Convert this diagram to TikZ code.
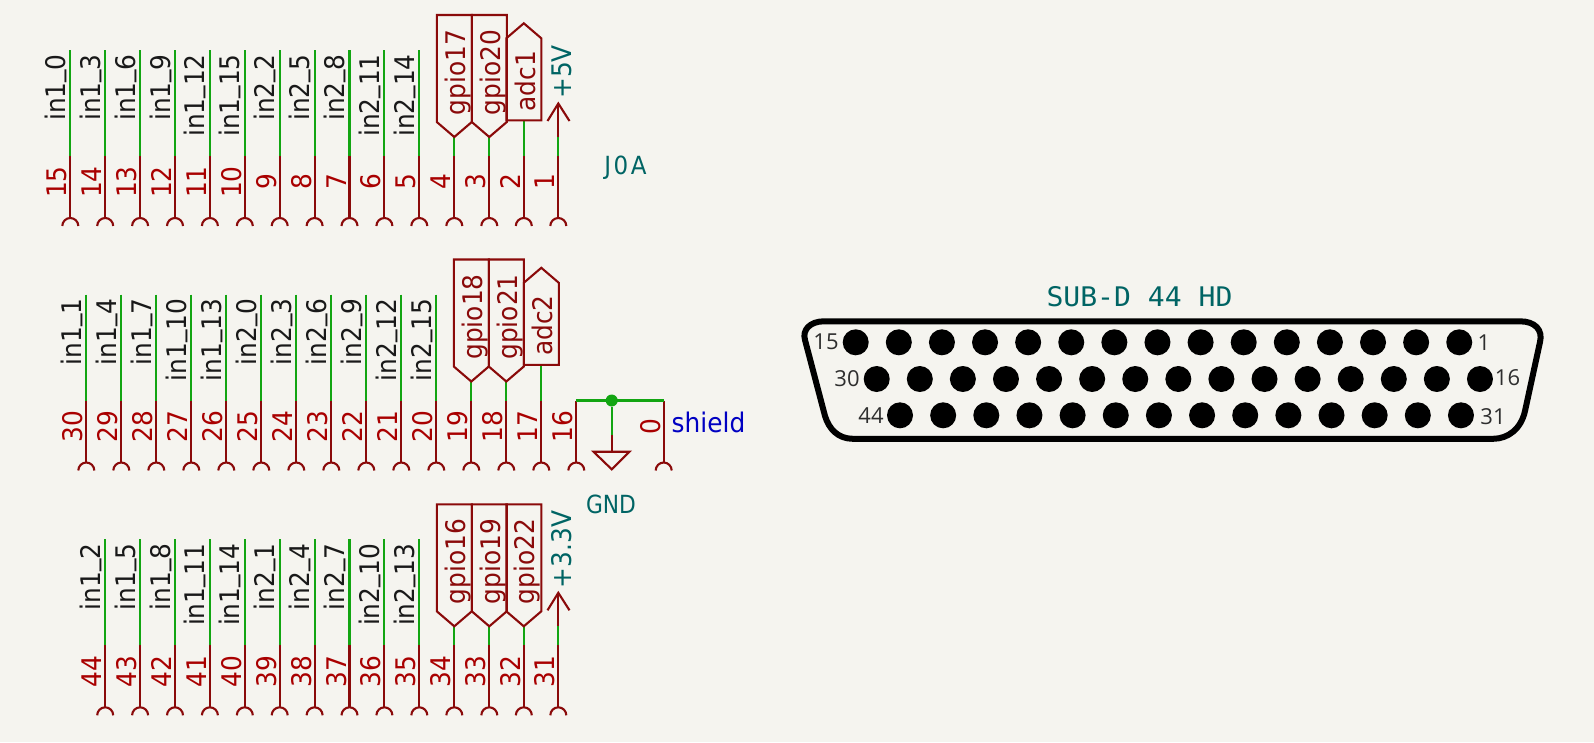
\documentclass[tikz,border=0pt]{standalone}
\usepackage{fontspec}
\newfontfamily\kifont[FakeStretch=0.92]{DejaVu Sans}
\newfontfamily\kinarrow[FakeStretch=0.87]{DejaVu Sans}
\newfontfamily\kispaced[FakeStretch=0.92,LetterSpace=10]{DejaVu Sans}
\newfontfamily\kimono[FakeStretch=1.04]{DejaVu Sans Mono}
\newfontfamily\dbfont{Open Sans}
\definecolor{kibg}{HTML}{F5F4EF}
\definecolor{kipin}{HTML}{8A0A0A}
\definecolor{kinum}{HTML}{A90000}
\definecolor{kiwire}{HTML}{12A512}
\definecolor{kipow}{HTML}{006464}
\definecolor{kilab}{HTML}{0000C2}
\definecolor{kidb}{HTML}{2E2E2E}
\newcommand{\kisize}{\fontsize{27}{27}\selectfont}
\newcommand{\kiund}{\raisebox{5pt}{\_}}
\tikzset{
  wire/.style={kiwire, line width=2.1pt},
  pinline/.style={kipin, line width=2.1pt},
  pinnum/.style={kinum, rotate=90, anchor=base, inner sep=0pt, font=\kifont\kisize},
  netlab/.style={black!90, rotate=90, anchor=base east, inner sep=0pt, font=\kifont\kisize},
  hierlab/.style={kipin, rotate=90, anchor=base, inner sep=0pt, font=\kifont\kisize},
  powlab/.style={kipow, rotate=90, anchor=base west, inner sep=0pt, font=\kifont\kisize},
  textlab/.style={anchor=base, inner sep=0pt, font=\kifont\kisize},
  dblab/.style={kidb, inner sep=0pt, font=\dbfont\fontsize{22}{22}\selectfont},
}
% x, top of the wire, row offset, pin number
\newcommand{\kiconn}[4]{%
  \coordinate (w#4) at (#1,#2+#3);
  \coordinate (j#4) at (#1,156+#3);
  \coordinate (e#4) at (#1,218+#3);
  \draw[wire] (w#4) -- (j#4);
  \draw[pinline] (j#4) -- (e#4);
  \draw[pinline] (#1-8,226+#3) arc[start angle=180, end angle=0, radius=8pt];
  \node[pinnum] (n#4) at (#1-3.5,182+#3) {#4};
}
\begin{document}
\begin{tikzpicture}[x=1pt,y=-1pt]
    \fill[kibg] (0,0) rectangle (1594,742);
    \useasboundingbox (0,0) rectangle (1594,742);

    % Top row of pins
    \foreach \num/\a/\b [count=\i from 0] in {15/in1/0, 14/in1/3, 13/in1/6, 12/in1/9, 11/in1/12, 10/in1/15, 9/in2/2, 8/in2/5, 7/in2/8, 6/in2/11, 5/in2/14} {
      \pgfmathsetmacro{\x}{70.3+34.9*\i}
      \kiconn{\x}{50}{0}{\num}
      \node[netlab] (lab\num) at (\x-5,54) {\a\kiund\b};
    }
    % Middle row of pins
    \foreach \num/\a/\b [count=\i from 0] in {30/in1/1, 29/in1/4, 28/in1/7, 27/in1/10, 26/in1/13, 25/in2/0, 24/in2/3, 23/in2/6, 22/in2/9, 21/in2/12, 20/in2/15} {
      \pgfmathsetmacro{\x}{86.3+35*\i}
      \kiconn{\x}{50}{244.5}{\num}
      \node[netlab] (lab\num) at (\x-5,298.5) {\a\kiund\b};
    }
    % Bottom row of pins
    \foreach \num/\a/\b [count=\i from 1] in {44/in1/2, 43/in1/5, 42/in1/8, 41/in1/11, 40/in1/14, 39/in2/1, 38/in2/4, 37/in2/7, 36/in2/10, 35/in2/13} {
      \pgfmathsetmacro{\x}{70.3+34.9*\i}
      \kiconn{\x}{50}{489.3}{\num}
      \node[netlab] (lab\num) at (\x-5,543.3) {\a\kiund\b};
    }

    % Hierarchical labels pointing down
    \foreach \x/\dy/\num/\lab in {454.3/0/4/gpio17, 489.3/0/3/gpio20, 471.3/244.5/19/gpio18, 506.3/244.5/18/gpio21, 454.3/489.3/34/gpio16, 489.3/489.3/33/gpio19, 523.8/489.3/32/gpio22} {
      \kiconn{\x}{137}{\dy}{\num}
      \draw[pinline] (\x-17.5,15+\dy) -- (\x+17.5,15+\dy) -- (\x+17.5,122+\dy) -- (\x,137+\dy) -- (\x-17.5,122+\dy) -- cycle;
      \node[hierlab] (lab\num) at (\x+11,72.5+\dy) {\lab};
    }
    % Hierarchical labels pointing up
    \foreach \x/\dy/\num/\lab in {523.8/0/2/adc1, 541.3/244.5/17/adc2} {
      \kiconn{\x}{120.3}{\dy}{\num}
      \draw[pinline] (\x-17.5,120.3+\dy) -- (\x+17.5,120.3+\dy) -- (\x+17.5,38.3+\dy) -- (\x,23.3+\dy) -- (\x-17.5,38.3+\dy) -- cycle;
      \node[hierlab] (lab\num) at (\x+11.5,81+\dy) {\lab};
    }

    % Power arrows
    \foreach \dy/\num/\lab in {0/1/+5V, 489.3/31/+3.3V} {
      \kiconn{558.3}{137}{\dy}{\num}
      \draw[pinline] (558.3,137+\dy) -- (558.3,103.5+\dy);
      \draw[pinline] (547.5,121+\dy) -- (558.3,103.5+\dy) -- (569.5,121+\dy);
      \node[powlab] (lab\num) at (571.5,99+\dy) {\lab};
    }

    % Shield and ground
    \kiconn{576.3}{156}{244.5}{16}
    \kiconn{663.7}{156}{244.5}{0}
    \draw[wire] (j16) -- (j0);
    \node[circle, fill=kiwire, minimum size=12pt, inner sep=0pt] (dot) at (611.7,400.5) {};
    \coordinate (gw) at (611.7,435);
    \coordinate (gp) at (611.7,451.7);
    \draw[wire] (dot) -- (gw);
    \draw[pinline] (gw) -- (gp);
    \draw[pinline] (593.5,451.7) -- (629.5,451.7) -- (611.7,469.3) -- cycle;
    \node[textlab, kilab] (shield) at (708.5,432.7) {shield};
    \node[textlab, kipow, font=\kinarrow\fontsize{25}{25}\selectfont] (gnd) at (611,513) {GND};
    \node[textlab, kipow, font=\kispaced\fontsize{25}{25}\selectfont] (joa) at (625.5,174) {J0A};

    % Connector body
    \node[anchor=base, inner sep=0pt, kipow, font=\kimono\fontsize{27}{27}\selectfont] (title) at (1139.5,306.7) {SUB-D 44 HD};
    \draw[black, line width=6pt, line join=round]
      (824,321.3) -- (1520,321.3) .. controls (1535,321.3) and (1543,330) .. (1540,342)
      -- (1525,411) .. controls (1521,429) and (1508,438.8) .. (1493,438.8)
      -- (853,438.8) .. controls (838,438.8) and (829,429) .. (825,416)
      -- (805,340) .. controls (802,330) and (810,321.3) .. (824,321.3) -- cycle;
    % Contacts
    \foreach \i in {0,...,14} {
      \fill[black] (855.7+43.11*\i,342.3) circle (13);
      \fill[black] (876.7+43.09*\i,379) circle (13);
    }
    \foreach \i in {0,...,13} {
      \fill[black] (900+43.15*\i,415.3) circle (13);
    }
    \foreach \x/\y/\num in {826/342/15, 847/379/30, 871/415.5/44, 1484/343/1, 1507.5/377.7/16, 1493/417/31} {
      \node[dblab] (db\num) at (\x,\y) {\num};
    }
\end{tikzpicture}
\end{document}
